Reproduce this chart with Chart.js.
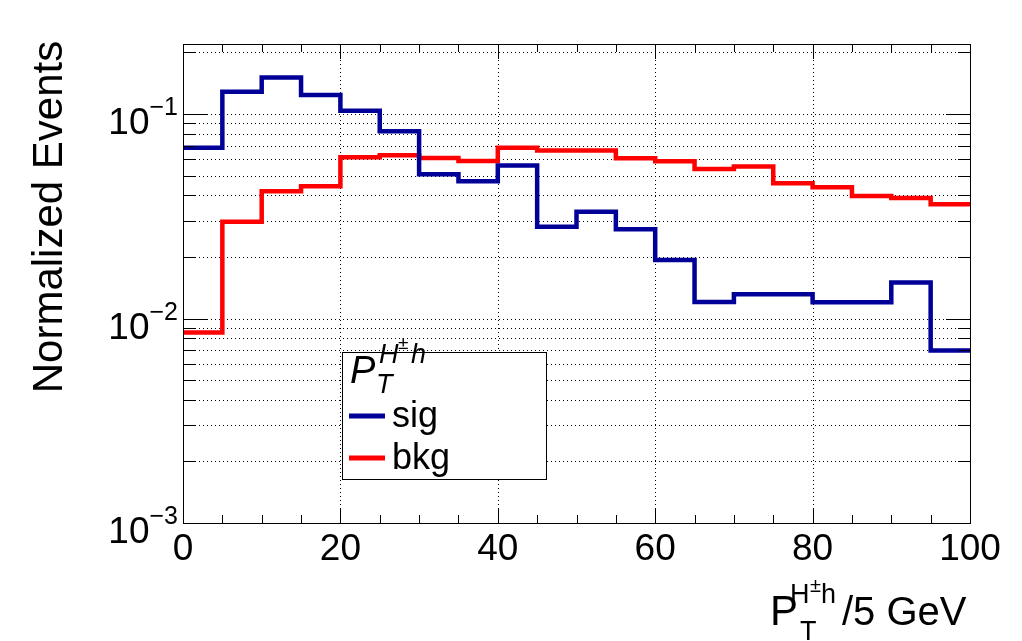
<!DOCTYPE html>
<html><head><meta charset="utf-8">
<script src="https://cdn.jsdelivr.net/npm/chart.js@4/dist/chart.umd.min.js"></script>
<style>html,body{margin:0;padding:0;background:#fff;overflow:hidden}</style>
</head><body>
<canvas id="c" width="1022" height="641"></canvas>
<script>
// ---- data ----
const binEdges = [0,5,10,15,20,25,30,35,40,45,50,55,60,65,70,75,80,85,90,95,100];
const sigValues = [0.0684,0.1285,0.151,0.124,0.1038,0.0824,0.0508,0.0469,0.056,0.0281,
                   0.0333,0.0273,0.0193,0.01205,0.01315,0.01315,0.0120,0.0120,0.0150,0.00698];
const bkgValues = [0.00855,0.0297,0.0419,0.0443,0.0614,0.0628,0.0610,0.0589,0.0684,0.0664,
                   0.0664,0.0608,0.0587,0.0539,0.0554,0.0458,0.0438,0.0397,0.0388,0.0362];
const xTickLabels = ['0','20','40','60','80','100'];
const xMajorTicks = [0,20,40,60,80,100];
const yDecadeExponents = [-3,-2,-1];
const seriesNames = ['sig','bkg'];
const yTitle = 'Normalized Events';

const FONT = '"Liberation Sans", Arial, Helvetica, sans-serif';
const SIG_COLOR = '#000099';
const BKG_COLOR = '#ff0000';

function histPoints(vals){
  return binEdges.map((x,i)=>({x:x, y: vals[Math.min(i, vals.length-1)]}));
}

const decor = {
  id:'decor',
  beforeDatasetsDraw(chart){
    const {ctx, chartArea:a, scales:{x,y}} = chart;
    ctx.save();
    ctx.strokeStyle='#000'; ctx.lineWidth=1; ctx.setLineDash([1,3]);
    xMajorTicks.forEach(v=>{
      if(v<=x.min||v>=x.max) return;
      const px=Math.round(x.getPixelForValue(v))+0.5;
      ctx.beginPath(); ctx.moveTo(px,a.top); ctx.lineTo(px,a.bottom); ctx.stroke();
    });
    yDecadeExponents.forEach(e=>{
      for(let k=1;k<=9;k++){
        const v=k*Math.pow(10,e);
        if(v<=y.min*1.0001||v>y.max) continue;
        const py=Math.round(y.getPixelForValue(v))+0.5;
        ctx.beginPath(); ctx.moveTo(a.left,py); ctx.lineTo(a.right,py); ctx.stroke();
      }
    });
    ctx.restore();
  },
  afterDatasetsDraw(chart){
    const {ctx, chartArea:a, scales:{x,y}} = chart;
    ctx.save();
    ctx.strokeStyle='#000'; ctx.lineWidth=1; ctx.setLineDash([]);
    ctx.strokeRect(Math.round(a.left)+0.5, Math.round(a.top)+0.5, Math.round(a.right-a.left), Math.round(a.bottom-a.top));
    for(let v=x.min; v<=x.max; v+=5){
      const major = (v%20===0);
      const L = major?15:8;
      const px=Math.round(x.getPixelForValue(v))+0.5;
      ctx.beginPath();
      ctx.moveTo(px,a.bottom); ctx.lineTo(px,a.bottom-L);
      ctx.moveTo(px,a.top); ctx.lineTo(px,a.top+L);
      ctx.stroke();
    }
    yDecadeExponents.forEach(e=>{
      for(let k=1;k<=9;k++){
        const v=k*Math.pow(10,e);
        if(v<y.min*0.999||v>y.max) continue;
        const L = k===1?24:12;
        const py=Math.round(y.getPixelForValue(v))+0.5;
        ctx.beginPath();
        ctx.moveTo(a.left,py); ctx.lineTo(a.left+L,py);
        ctx.moveTo(a.right,py); ctx.lineTo(a.right-L,py);
        ctx.stroke();
      }
    });
    ctx.fillStyle='#000';
    ctx.font='37px '+FONT; ctx.textAlign='center'; ctx.textBaseline='alphabetic';
    xMajorTicks.forEach((v,i)=>{
      ctx.fillText(xTickLabels[i], x.getPixelForValue(v), 560);
    });
    yDecadeExponents.forEach(e=>{
      const py=y.getPixelForValue(Math.pow(10,e));
      ctx.textAlign='right';
      ctx.font='25px '+FONT;
      const sup='\u2212'+Math.abs(e);
      const supW=ctx.measureText(sup).width;
      ctx.fillText(sup, 178, py+1);
      ctx.font='37px '+FONT;
      ctx.fillText('10', 178-supW, py+20);
    });
    ctx.save();
    ctx.translate(62, 217);
    ctx.rotate(-Math.PI/2);
    ctx.textAlign='center'; ctx.font='42px '+FONT;
    ctx.fillText(yTitle, 0, 0);
    ctx.restore();
    ctx.textAlign='left';
    ctx.font='42px '+FONT; ctx.fillText('P', 770, 625);
    ctx.font='27px '+FONT; ctx.fillText('H', 790, 603);
    ctx.font='27px '+FONT; ctx.fillText('T', 800, 640);
    ctx.font='20px '+FONT; ctx.fillText('\u00b1', 810, 592);
    ctx.font='27px '+FONT; ctx.fillText('h', 821, 603);
    ctx.font='40px '+FONT; ctx.fillText('/5 GeV', 842, 625);

    ctx.fillStyle='#fff';
    ctx.fillRect(343,352,204,128);
    ctx.strokeStyle='#000'; ctx.lineWidth=1;
    ctx.strokeRect(342.5,352.5,204,127);
    ctx.fillStyle='#000';
    ctx.font='italic 38px '+FONT; ctx.fillText('P', 350, 383);
    ctx.font='italic 27px '+FONT; ctx.fillText('H', 379, 363);
    ctx.font='italic 27px '+FONT; ctx.fillText('T', 376, 393);
    ctx.font='italic 19px '+FONT; ctx.fillText('\u00b1', 398, 349);
    ctx.font='italic 27px '+FONT; ctx.fillText('h', 411, 363);
    const entries=[[seriesNames[0],SIG_COLOR,416],[seriesNames[1],BKG_COLOR,458]];
    entries.forEach(([name,col,yy])=>{
      ctx.strokeStyle=col; ctx.lineWidth=5;
      ctx.beginPath(); ctx.moveTo(349,yy); ctx.lineTo(385,yy); ctx.stroke();
      ctx.fillStyle='#000'; ctx.font='36px '+FONT; ctx.textBaseline='middle';
      ctx.fillText(name, 392, yy+1);
      ctx.textBaseline='alphabetic';
    });
    ctx.restore();
  }
};

new Chart(document.getElementById('c'), {
  type:'line',
  data:{datasets:[
    {label:seriesNames[0], data:histPoints(sigValues), borderColor:SIG_COLOR, borderWidth:4.5,
     stepped:'before', pointRadius:0, fill:false, borderJoinStyle:'miter', borderCapStyle:'butt'},
    {label:seriesNames[1], data:histPoints(bkgValues), borderColor:BKG_COLOR, borderWidth:4.5,
     stepped:'before', pointRadius:0, fill:false, borderJoinStyle:'miter', borderCapStyle:'butt'}
  ]},
  options:{
    responsive:false, animation:false, devicePixelRatio:1,
    layout:{padding:{left:183,right:52,top:44,bottom:118}},
    plugins:{legend:{display:false}, tooltip:{enabled:false}},
    scales:{
      x:{type:'linear', min:0, max:100, display:false},
      y:{type:'logarithmic', min:0.001, max:0.22, display:false}
    }
  },
  plugins:[decor]
});
</script>
</body></html>
